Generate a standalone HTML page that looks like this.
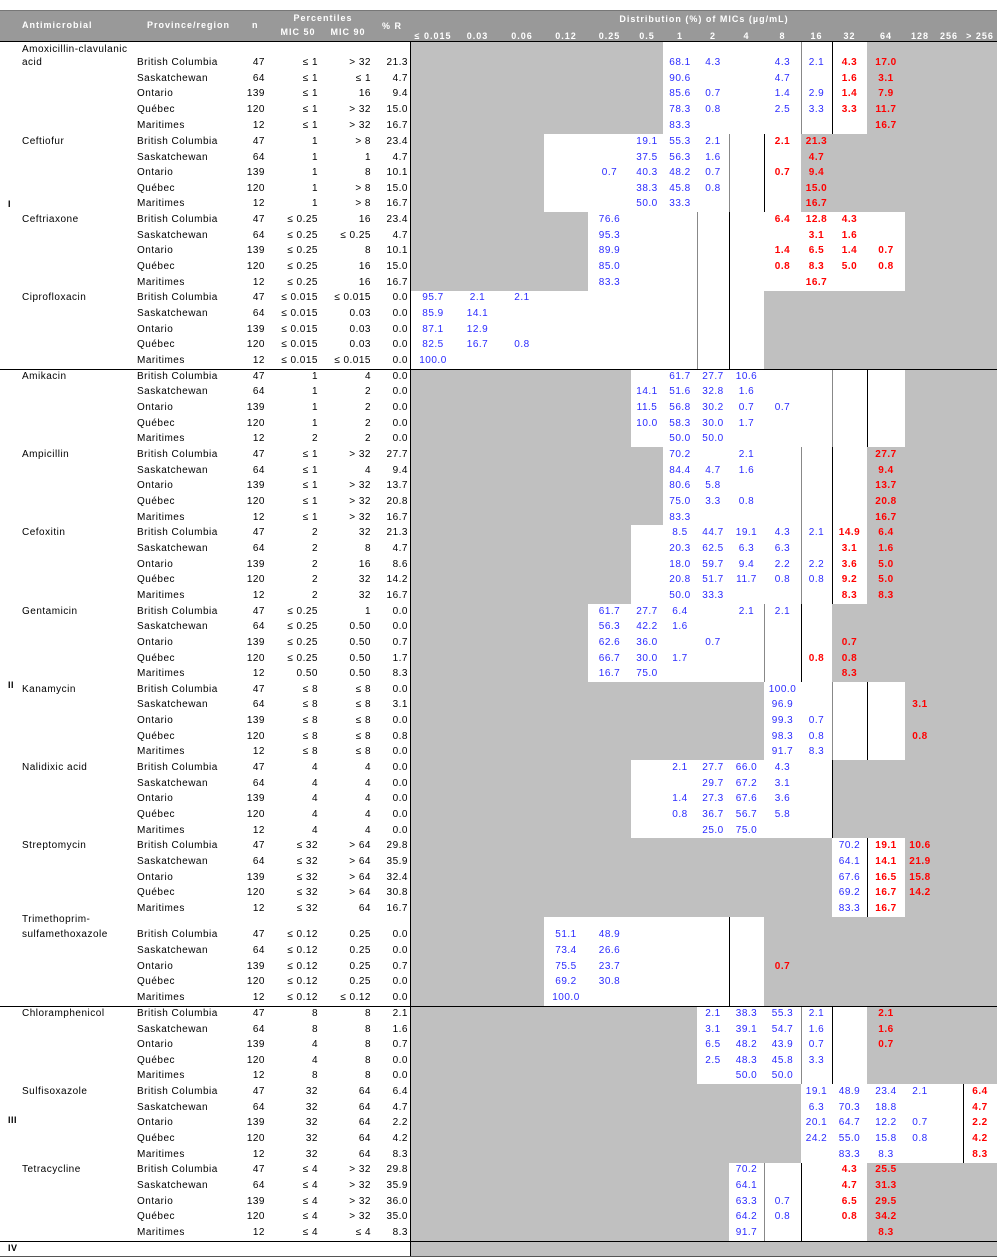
<!DOCTYPE html>
<html><head><meta charset="utf-8">
<style>
body{margin:0;background:#fff;}
#w{position:relative;width:997px;height:1259px;overflow:hidden;font-family:"Liberation Sans",Arial,sans-serif;font-size:10px;color:#000;letter-spacing:0.5px;}
.ab{position:absolute;}
.hd{position:absolute;left:0;top:10px;width:997px;height:32px;background:#999;border-top:1px solid #777;box-sizing:border-box;}
.h{position:absolute;color:#fff;font-weight:bold;font-size:9px;letter-spacing:1px;white-space:nowrap;line-height:10px;}
.hc{position:absolute;color:#fff;font-weight:bold;font-size:9px;letter-spacing:1px;white-space:nowrap;line-height:10px;text-align:center;}
.gray{position:absolute;left:411px;top:42px;width:586px;height:1214px;background:#c0c0c0;}
.wh{position:absolute;background:#fff;}
.lg{position:absolute;width:1px;background:#888;}
.lk{position:absolute;width:1px;background:#000;}
.hl{position:absolute;left:0;width:997px;height:1px;background:#000;}
.r{position:absolute;left:0;width:997px;height:16px;line-height:16px;}
.r span{position:absolute;top:0;white-space:nowrap;}
.a{left:22px}
.p{left:137px}
.n{left:215px;width:50px;text-align:right}
.m5{left:268px;width:50px;text-align:right}
.m9{left:320px;width:51px;text-align:right}
.pr{left:368px;width:40px;text-align:right}
.d0,.d1,.d2,.d3,.d4,.d5,.d6,.d7,.d8,.d9,.d10,.d11,.d12,.d13,.d14,.d15{text-align:center;color:#2b2bff;}
.d0{left:411px;width:44px}.d1{left:455px;width:45px}.d2{left:500px;width:44px}.d3{left:544px;width:44px}
.d4{left:588px;width:43px}.d5{left:631px;width:32px}.d6{left:663px;width:34px}.d7{left:697px;width:32px}
.d8{left:729px;width:35px}.d9{left:764px;width:37px}.d10{left:801px;width:31px}.d11{left:832px;width:35px}
.d12{left:867px;width:38px}.d13{left:905px;width:30px}.d14{left:935px;width:28px}.d15{left:963px;width:34px}
.r span.x{color:#f00;font-weight:bold}
.g{position:absolute;left:8px;font-weight:bold;font-size:9px;line-height:10px}
</style></head><body><div id="w">
<div class="hd"></div>
<div class="h" style="left:22px;top:20px">Antimicrobial</div>
<div class="h" style="left:147px;top:20px">Province/region</div>
<div class="h" style="left:252px;top:20px">n</div>
<div class="hc" style="left:283px;width:80px;top:13px">Percentiles</div>
<div class="hc" style="left:273px;width:50px;top:27px">MIC 50</div>
<div class="hc" style="left:323px;width:50px;top:27px">MIC 90</div>
<div class="h" style="left:382px;top:21px">% R</div>
<div class="hc" style="left:554px;width:300px;top:14px">Distribution (%) of MICs (µg/mL)</div>
<div class="hc" style="left:411px;width:44px;top:31px">≤ 0.015</div>
<div class="hc" style="left:455px;width:45px;top:31px">0.03</div>
<div class="hc" style="left:500px;width:44px;top:31px">0.06</div>
<div class="hc" style="left:544px;width:44px;top:31px">0.12</div>
<div class="hc" style="left:588px;width:43px;top:31px">0.25</div>
<div class="hc" style="left:631px;width:32px;top:31px">0.5</div>
<div class="hc" style="left:663px;width:34px;top:31px">1</div>
<div class="hc" style="left:697px;width:32px;top:31px">2</div>
<div class="hc" style="left:729px;width:35px;top:31px">4</div>
<div class="hc" style="left:764px;width:37px;top:31px">8</div>
<div class="hc" style="left:801px;width:31px;top:31px">16</div>
<div class="hc" style="left:832px;width:35px;top:31px">32</div>
<div class="hc" style="left:867px;width:38px;top:31px">64</div>
<div class="hc" style="left:905px;width:30px;top:31px">128</div>
<div class="hc" style="left:935px;width:28px;top:31px">256</div>
<div class="hc" style="left:963px;width:34px;top:31px">&gt; 256</div>

<div class="gray"></div>
<!-- white regions -->
<div class="wh" style="left:663px;width:204px;top:42px;height:92px"></div>
<div class="wh" style="left:544px;width:257px;top:134px;height:78.3px"></div>
<div class="wh" style="left:588px;width:317px;top:212.3px;height:78.3px"></div>
<div class="wh" style="left:411px;width:353px;top:290.6px;height:78.3px"></div>
<div class="wh" style="left:631px;width:274px;top:368.9px;height:78.3px"></div>
<div class="wh" style="left:663px;width:204px;top:447.2px;height:78.3px"></div>
<div class="wh" style="left:631px;width:236px;top:525.4px;height:78.3px"></div>
<div class="wh" style="left:588px;width:244px;top:603.7px;height:78.3px"></div>
<div class="wh" style="left:764px;width:141px;top:681.9px;height:78.3px"></div>
<div class="wh" style="left:631px;width:201px;top:760.2px;height:78.3px"></div>
<div class="wh" style="left:832px;width:73px;top:838.4px;height:78.3px"></div>
<div class="wh" style="left:544px;width:220px;top:916.7px;height:89.3px"></div>
<div class="wh" style="left:697px;width:170px;top:1006px;height:78.3px"></div>
<div class="wh" style="left:801px;width:196px;top:1084.3px;height:78.3px"></div>
<div class="wh" style="left:729px;width:138px;top:1162.5px;height:78.3px"></div>
<!-- breakpoint lines -->
<div class="lg" style="left:801px;top:42px;height:92px"></div><div class="lk" style="left:832px;top:42px;height:92px"></div>
<div class="lg" style="left:729px;top:134px;height:78.3px"></div><div class="lk" style="left:764px;top:134px;height:78.3px"></div>
<div class="lg" style="left:697px;top:212.3px;height:156.6px"></div><div class="lk" style="left:729px;top:212.3px;height:156.6px"></div>
<div class="lg" style="left:832px;top:368.9px;height:78.3px"></div><div class="lk" style="left:867px;top:368.9px;height:78.3px"></div>
<div class="lg" style="left:801px;top:447.2px;height:156.5px"></div><div class="lk" style="left:832px;top:447.2px;height:156.5px"></div>
<div class="lg" style="left:764px;top:603.7px;height:78.3px"></div><div class="lk" style="left:801px;top:603.7px;height:78.3px"></div>
<div class="lg" style="left:832px;top:681.9px;height:78.3px"></div><div class="lk" style="left:867px;top:681.9px;height:78.3px"></div>
<div class="lk" style="left:832px;top:760.2px;height:78.3px"></div>
<div class="lk" style="left:867px;top:838.4px;height:78.3px"></div>
<div class="lk" style="left:729px;top:916.7px;height:89.3px"></div>
<div class="lg" style="left:801px;top:1006px;height:78.3px"></div><div class="lk" style="left:832px;top:1006px;height:78.3px"></div>
<div class="lk" style="left:963px;top:1084.3px;height:78.3px"></div>
<div class="lg" style="left:764px;top:1162.5px;height:78.3px"></div><div class="lk" style="left:801px;top:1162.5px;height:78.3px"></div>

<div class="lk" style="left:410px;top:42px;height:1214px"></div>
<div class="hl" style="top:41px"></div>
<div class="hl" style="top:368.5px"></div>
<div class="hl" style="top:1005.5px"></div>
<div class="hl" style="top:1240.5px"></div>
<div class="hl" style="top:1256px;background:#555"></div>

<div class="g" style="top:199px">I</div>
<div class="g" style="top:680px">II</div>
<div class="g" style="top:1115px">III</div>
<div class="g" style="top:1243px">IV</div>

<!-- Group I -->
<div class="r" style="top:41.5px"><span class="a">Amoxicillin-clavulanic</span></div>
<div class="r" style="top:55px"><span class="a">acid</span><span class="p">British Columbia</span><span class="n">47</span><span class="m5">≤ 1</span><span class="m9">&gt; 32</span><span class="pr">21.3</span><span class="d6">68.1</span><span class="d7">4.3</span><span class="d9">4.3</span><span class="d10">2.1</span><span class="d11 x">4.3</span><span class="d12 x">17.0</span></div>
<div class="r" style="top:70.5px"><span class="p">Saskatchewan</span><span class="n">64</span><span class="m5">≤ 1</span><span class="m9">≤ 1</span><span class="pr">4.7</span><span class="d6">90.6</span><span class="d9">4.7</span><span class="d11 x">1.6</span><span class="d12 x">3.1</span></div>
<div class="r" style="top:86.2px"><span class="p">Ontario</span><span class="n">139</span><span class="m5">≤ 1</span><span class="m9">16</span><span class="pr">9.4</span><span class="d6">85.6</span><span class="d7">0.7</span><span class="d9">1.4</span><span class="d10">2.9</span><span class="d11 x">1.4</span><span class="d12 x">7.9</span></div>
<div class="r" style="top:102px"><span class="p">Québec</span><span class="n">120</span><span class="m5">≤ 1</span><span class="m9">&gt; 32</span><span class="pr">15.0</span><span class="d6">78.3</span><span class="d7">0.8</span><span class="d9">2.5</span><span class="d10">3.3</span><span class="d11 x">3.3</span><span class="d12 x">11.7</span></div>
<div class="r" style="top:118px"><span class="p">Maritimes</span><span class="n">12</span><span class="m5">≤ 1</span><span class="m9">&gt; 32</span><span class="pr">16.7</span><span class="d6">83.3</span><span class="d12 x">16.7</span></div>

<div class="r" style="top:133.8px"><span class="a">Ceftiofur</span><span class="p">British Columbia</span><span class="n">47</span><span class="m5">1</span><span class="m9">&gt; 8</span><span class="pr">23.4</span><span class="d5">19.1</span><span class="d6">55.3</span><span class="d7">2.1</span><span class="d9 x">2.1</span><span class="d10 x">21.3</span></div>
<div class="r" style="top:149.5px"><span class="p">Saskatchewan</span><span class="n">64</span><span class="m5">1</span><span class="m9">1</span><span class="pr">4.7</span><span class="d5">37.5</span><span class="d6">56.3</span><span class="d7">1.6</span><span class="d10 x">4.7</span></div>
<div class="r" style="top:165.1px"><span class="p">Ontario</span><span class="n">139</span><span class="m5">1</span><span class="m9">8</span><span class="pr">10.1</span><span class="d4">0.7</span><span class="d5">40.3</span><span class="d6">48.2</span><span class="d7">0.7</span><span class="d9 x">0.7</span><span class="d10 x">9.4</span></div>
<div class="r" style="top:180.8px"><span class="p">Québec</span><span class="n">120</span><span class="m5">1</span><span class="m9">&gt; 8</span><span class="pr">15.0</span><span class="d5">38.3</span><span class="d6">45.8</span><span class="d7">0.8</span><span class="d10 x">15.0</span></div>
<div class="r" style="top:196.4px"><span class="p">Maritimes</span><span class="n">12</span><span class="m5">1</span><span class="m9">&gt; 8</span><span class="pr">16.7</span><span class="d5">50.0</span><span class="d6">33.3</span><span class="d10 x">16.7</span></div>

<div class="r" style="top:212.1px"><span class="a">Ceftriaxone</span><span class="p">British Columbia</span><span class="n">47</span><span class="m5">≤ 0.25</span><span class="m9">16</span><span class="pr">23.4</span><span class="d4">76.6</span><span class="d9 x">6.4</span><span class="d10 x">12.8</span><span class="d11 x">4.3</span></div>
<div class="r" style="top:227.8px"><span class="p">Saskatchewan</span><span class="n">64</span><span class="m5">≤ 0.25</span><span class="m9">≤ 0.25</span><span class="pr">4.7</span><span class="d4">95.3</span><span class="d10 x">3.1</span><span class="d11 x">1.6</span></div>
<div class="r" style="top:243.4px"><span class="p">Ontario</span><span class="n">139</span><span class="m5">≤ 0.25</span><span class="m9">8</span><span class="pr">10.1</span><span class="d4">89.9</span><span class="d9 x">1.4</span><span class="d10 x">6.5</span><span class="d11 x">1.4</span><span class="d12 x">0.7</span></div>
<div class="r" style="top:259.1px"><span class="p">Québec</span><span class="n">120</span><span class="m5">≤ 0.25</span><span class="m9">16</span><span class="pr">15.0</span><span class="d4">85.0</span><span class="d9 x">0.8</span><span class="d10 x">8.3</span><span class="d11 x">5.0</span><span class="d12 x">0.8</span></div>
<div class="r" style="top:274.7px"><span class="p">Maritimes</span><span class="n">12</span><span class="m5">≤ 0.25</span><span class="m9">16</span><span class="pr">16.7</span><span class="d4">83.3</span><span class="d10 x">16.7</span></div>

<div class="r" style="top:290.4px"><span class="a">Ciprofloxacin</span><span class="p">British Columbia</span><span class="n">47</span><span class="m5">≤ 0.015</span><span class="m9">≤ 0.015</span><span class="pr">0.0</span><span class="d0">95.7</span><span class="d1">2.1</span><span class="d2">2.1</span></div>
<div class="r" style="top:306.1px"><span class="p">Saskatchewan</span><span class="n">64</span><span class="m5">≤ 0.015</span><span class="m9">0.03</span><span class="pr">0.0</span><span class="d0">85.9</span><span class="d1">14.1</span></div>
<div class="r" style="top:321.7px"><span class="p">Ontario</span><span class="n">139</span><span class="m5">≤ 0.015</span><span class="m9">0.03</span><span class="pr">0.0</span><span class="d0">87.1</span><span class="d1">12.9</span></div>
<div class="r" style="top:337.4px"><span class="p">Québec</span><span class="n">120</span><span class="m5">≤ 0.015</span><span class="m9">0.03</span><span class="pr">0.0</span><span class="d0">82.5</span><span class="d1">16.7</span><span class="d2">0.8</span></div>
<div class="r" style="top:353px"><span class="p">Maritimes</span><span class="n">12</span><span class="m5">≤ 0.015</span><span class="m9">≤ 0.015</span><span class="pr">0.0</span><span class="d0">100.0</span></div>

<!-- Group II -->
<div class="r" style="top:368.7px"><span class="a">Amikacin</span><span class="p">British Columbia</span><span class="n">47</span><span class="m5">1</span><span class="m9">4</span><span class="pr">0.0</span><span class="d6">61.7</span><span class="d7">27.7</span><span class="d8">10.6</span></div>
<div class="r" style="top:384.4px"><span class="p">Saskatchewan</span><span class="n">64</span><span class="m5">1</span><span class="m9">2</span><span class="pr">0.0</span><span class="d5">14.1</span><span class="d6">51.6</span><span class="d7">32.8</span><span class="d8">1.6</span></div>
<div class="r" style="top:400px"><span class="p">Ontario</span><span class="n">139</span><span class="m5">1</span><span class="m9">2</span><span class="pr">0.0</span><span class="d5">11.5</span><span class="d6">56.8</span><span class="d7">30.2</span><span class="d8">0.7</span><span class="d9">0.7</span></div>
<div class="r" style="top:415.7px"><span class="p">Québec</span><span class="n">120</span><span class="m5">1</span><span class="m9">2</span><span class="pr">0.0</span><span class="d5">10.0</span><span class="d6">58.3</span><span class="d7">30.0</span><span class="d8">1.7</span></div>
<div class="r" style="top:431.3px"><span class="p">Maritimes</span><span class="n">12</span><span class="m5">2</span><span class="m9">2</span><span class="pr">0.0</span><span class="d6">50.0</span><span class="d7">50.0</span></div>

<div class="r" style="top:447px"><span class="a">Ampicillin</span><span class="p">British Columbia</span><span class="n">47</span><span class="m5">≤ 1</span><span class="m9">&gt; 32</span><span class="pr">27.7</span><span class="d6">70.2</span><span class="d8">2.1</span><span class="d12 x">27.7</span></div>
<div class="r" style="top:462.6px"><span class="p">Saskatchewan</span><span class="n">64</span><span class="m5">≤ 1</span><span class="m9">4</span><span class="pr">9.4</span><span class="d6">84.4</span><span class="d7">4.7</span><span class="d8">1.6</span><span class="d12 x">9.4</span></div>
<div class="r" style="top:478.3px"><span class="p">Ontario</span><span class="n">139</span><span class="m5">≤ 1</span><span class="m9">&gt; 32</span><span class="pr">13.7</span><span class="d6">80.6</span><span class="d7">5.8</span><span class="d12 x">13.7</span></div>
<div class="r" style="top:493.9px"><span class="p">Québec</span><span class="n">120</span><span class="m5">≤ 1</span><span class="m9">&gt; 32</span><span class="pr">20.8</span><span class="d6">75.0</span><span class="d7">3.3</span><span class="d8">0.8</span><span class="d12 x">20.8</span></div>
<div class="r" style="top:509.6px"><span class="p">Maritimes</span><span class="n">12</span><span class="m5">≤ 1</span><span class="m9">&gt; 32</span><span class="pr">16.7</span><span class="d6">83.3</span><span class="d12 x">16.7</span></div>

<div class="r" style="top:525.2px"><span class="a">Cefoxitin</span><span class="p">British Columbia</span><span class="n">47</span><span class="m5">2</span><span class="m9">32</span><span class="pr">21.3</span><span class="d6">8.5</span><span class="d7">44.7</span><span class="d8">19.1</span><span class="d9">4.3</span><span class="d10">2.1</span><span class="d11 x">14.9</span><span class="d12 x">6.4</span></div>
<div class="r" style="top:540.9px"><span class="p">Saskatchewan</span><span class="n">64</span><span class="m5">2</span><span class="m9">8</span><span class="pr">4.7</span><span class="d6">20.3</span><span class="d7">62.5</span><span class="d8">6.3</span><span class="d9">6.3</span><span class="d11 x">3.1</span><span class="d12 x">1.6</span></div>
<div class="r" style="top:556.5px"><span class="p">Ontario</span><span class="n">139</span><span class="m5">2</span><span class="m9">16</span><span class="pr">8.6</span><span class="d6">18.0</span><span class="d7">59.7</span><span class="d8">9.4</span><span class="d9">2.2</span><span class="d10">2.2</span><span class="d11 x">3.6</span><span class="d12 x">5.0</span></div>
<div class="r" style="top:572.2px"><span class="p">Québec</span><span class="n">120</span><span class="m5">2</span><span class="m9">32</span><span class="pr">14.2</span><span class="d6">20.8</span><span class="d7">51.7</span><span class="d8">11.7</span><span class="d9">0.8</span><span class="d10">0.8</span><span class="d11 x">9.2</span><span class="d12 x">5.0</span></div>
<div class="r" style="top:587.8px"><span class="p">Maritimes</span><span class="n">12</span><span class="m5">2</span><span class="m9">32</span><span class="pr">16.7</span><span class="d6">50.0</span><span class="d7">33.3</span><span class="d11 x">8.3</span><span class="d12 x">8.3</span></div>

<div class="r" style="top:603.5px"><span class="a">Gentamicin</span><span class="p">British Columbia</span><span class="n">47</span><span class="m5">≤ 0.25</span><span class="m9">1</span><span class="pr">0.0</span><span class="d4">61.7</span><span class="d5">27.7</span><span class="d6">6.4</span><span class="d8">2.1</span><span class="d9">2.1</span></div>
<div class="r" style="top:619.2px"><span class="p">Saskatchewan</span><span class="n">64</span><span class="m5">≤ 0.25</span><span class="m9">0.50</span><span class="pr">0.0</span><span class="d4">56.3</span><span class="d5">42.2</span><span class="d6">1.6</span></div>
<div class="r" style="top:634.8px"><span class="p">Ontario</span><span class="n">139</span><span class="m5">≤ 0.25</span><span class="m9">0.50</span><span class="pr">0.7</span><span class="d4">62.6</span><span class="d5">36.0</span><span class="d7">0.7</span><span class="d11 x">0.7</span></div>
<div class="r" style="top:650.5px"><span class="p">Québec</span><span class="n">120</span><span class="m5">≤ 0.25</span><span class="m9">0.50</span><span class="pr">1.7</span><span class="d4">66.7</span><span class="d5">30.0</span><span class="d6">1.7</span><span class="d10 x">0.8</span><span class="d11 x">0.8</span></div>
<div class="r" style="top:666.1px"><span class="p">Maritimes</span><span class="n">12</span><span class="m5">0.50</span><span class="m9">0.50</span><span class="pr">8.3</span><span class="d4">16.7</span><span class="d5">75.0</span><span class="d11 x">8.3</span></div>

<div class="r" style="top:681.7px"><span class="a">Kanamycin</span><span class="p">British Columbia</span><span class="n">47</span><span class="m5">≤ 8</span><span class="m9">≤ 8</span><span class="pr">0.0</span><span class="d9">100.0</span></div>
<div class="r" style="top:697.4px"><span class="p">Saskatchewan</span><span class="n">64</span><span class="m5">≤ 8</span><span class="m9">≤ 8</span><span class="pr">3.1</span><span class="d9">96.9</span><span class="d13 x">3.1</span></div>
<div class="r" style="top:713px"><span class="p">Ontario</span><span class="n">139</span><span class="m5">≤ 8</span><span class="m9">≤ 8</span><span class="pr">0.0</span><span class="d9">99.3</span><span class="d10">0.7</span></div>
<div class="r" style="top:728.7px"><span class="p">Québec</span><span class="n">120</span><span class="m5">≤ 8</span><span class="m9">≤ 8</span><span class="pr">0.8</span><span class="d9">98.3</span><span class="d10">0.8</span><span class="d13 x">0.8</span></div>
<div class="r" style="top:744.3px"><span class="p">Maritimes</span><span class="n">12</span><span class="m5">≤ 8</span><span class="m9">≤ 8</span><span class="pr">0.0</span><span class="d9">91.7</span><span class="d10">8.3</span></div>

<div class="r" style="top:760px"><span class="a">Nalidixic acid</span><span class="p">British Columbia</span><span class="n">47</span><span class="m5">4</span><span class="m9">4</span><span class="pr">0.0</span><span class="d6">2.1</span><span class="d7">27.7</span><span class="d8">66.0</span><span class="d9">4.3</span></div>
<div class="r" style="top:775.7px"><span class="p">Saskatchewan</span><span class="n">64</span><span class="m5">4</span><span class="m9">4</span><span class="pr">0.0</span><span class="d7">29.7</span><span class="d8">67.2</span><span class="d9">3.1</span></div>
<div class="r" style="top:791.3px"><span class="p">Ontario</span><span class="n">139</span><span class="m5">4</span><span class="m9">4</span><span class="pr">0.0</span><span class="d6">1.4</span><span class="d7">27.3</span><span class="d8">67.6</span><span class="d9">3.6</span></div>
<div class="r" style="top:807px"><span class="p">Québec</span><span class="n">120</span><span class="m5">4</span><span class="m9">4</span><span class="pr">0.0</span><span class="d6">0.8</span><span class="d7">36.7</span><span class="d8">56.7</span><span class="d9">5.8</span></div>
<div class="r" style="top:822.6px"><span class="p">Maritimes</span><span class="n">12</span><span class="m5">4</span><span class="m9">4</span><span class="pr">0.0</span><span class="d7">25.0</span><span class="d8">75.0</span></div>

<div class="r" style="top:838.2px"><span class="a">Streptomycin</span><span class="p">British Columbia</span><span class="n">47</span><span class="m5">≤ 32</span><span class="m9">&gt; 64</span><span class="pr">29.8</span><span class="d11">70.2</span><span class="d12 x">19.1</span><span class="d13 x">10.6</span></div>
<div class="r" style="top:853.9px"><span class="p">Saskatchewan</span><span class="n">64</span><span class="m5">≤ 32</span><span class="m9">&gt; 64</span><span class="pr">35.9</span><span class="d11">64.1</span><span class="d12 x">14.1</span><span class="d13 x">21.9</span></div>
<div class="r" style="top:869.5px"><span class="p">Ontario</span><span class="n">139</span><span class="m5">≤ 32</span><span class="m9">&gt; 64</span><span class="pr">32.4</span><span class="d11">67.6</span><span class="d12 x">16.5</span><span class="d13 x">15.8</span></div>
<div class="r" style="top:885.2px"><span class="p">Québec</span><span class="n">120</span><span class="m5">≤ 32</span><span class="m9">&gt; 64</span><span class="pr">30.8</span><span class="d11">69.2</span><span class="d12 x">16.7</span><span class="d13 x">14.2</span></div>
<div class="r" style="top:900.8px"><span class="p">Maritimes</span><span class="n">12</span><span class="m5">≤ 32</span><span class="m9">64</span><span class="pr">16.7</span><span class="d11">83.3</span><span class="d12 x">16.7</span></div>

<div class="r" style="top:911.5px"><span class="a">Trimethoprim-</span></div>
<div class="r" style="top:927px"><span class="a">sulfamethoxazole</span><span class="p">British Columbia</span><span class="n">47</span><span class="m5">≤ 0.12</span><span class="m9">0.25</span><span class="pr">0.0</span><span class="d3">51.1</span><span class="d4">48.9</span></div>
<div class="r" style="top:942.8px"><span class="p">Saskatchewan</span><span class="n">64</span><span class="m5">≤ 0.12</span><span class="m9">0.25</span><span class="pr">0.0</span><span class="d3">73.4</span><span class="d4">26.6</span></div>
<div class="r" style="top:958.5px"><span class="p">Ontario</span><span class="n">139</span><span class="m5">≤ 0.12</span><span class="m9">0.25</span><span class="pr">0.7</span><span class="d3">75.5</span><span class="d4">23.7</span><span class="d9 x">0.7</span></div>
<div class="r" style="top:974.1px"><span class="p">Québec</span><span class="n">120</span><span class="m5">≤ 0.12</span><span class="m9">0.25</span><span class="pr">0.0</span><span class="d3">69.2</span><span class="d4">30.8</span></div>
<div class="r" style="top:989.8px"><span class="p">Maritimes</span><span class="n">12</span><span class="m5">≤ 0.12</span><span class="m9">≤ 0.12</span><span class="pr">0.0</span><span class="d3">100.0</span></div>

<!-- Group III -->
<div class="r" style="top:1005.8px"><span class="a">Chloramphenicol</span><span class="p">British Columbia</span><span class="n">47</span><span class="m5">8</span><span class="m9">8</span><span class="pr">2.1</span><span class="d7">2.1</span><span class="d8">38.3</span><span class="d9">55.3</span><span class="d10">2.1</span><span class="d12 x">2.1</span></div>
<div class="r" style="top:1021.5px"><span class="p">Saskatchewan</span><span class="n">64</span><span class="m5">8</span><span class="m9">8</span><span class="pr">1.6</span><span class="d7">3.1</span><span class="d8">39.1</span><span class="d9">54.7</span><span class="d10">1.6</span><span class="d12 x">1.6</span></div>
<div class="r" style="top:1037.1px"><span class="p">Ontario</span><span class="n">139</span><span class="m5">4</span><span class="m9">8</span><span class="pr">0.7</span><span class="d7">6.5</span><span class="d8">48.2</span><span class="d9">43.9</span><span class="d10">0.7</span><span class="d12 x">0.7</span></div>
<div class="r" style="top:1052.8px"><span class="p">Québec</span><span class="n">120</span><span class="m5">4</span><span class="m9">8</span><span class="pr">0.0</span><span class="d7">2.5</span><span class="d8">48.3</span><span class="d9">45.8</span><span class="d10">3.3</span></div>
<div class="r" style="top:1068.4px"><span class="p">Maritimes</span><span class="n">12</span><span class="m5">8</span><span class="m9">8</span><span class="pr">0.0</span><span class="d8">50.0</span><span class="d9">50.0</span></div>

<div class="r" style="top:1084.1px"><span class="a">Sulfisoxazole</span><span class="p">British Columbia</span><span class="n">47</span><span class="m5">32</span><span class="m9">64</span><span class="pr">6.4</span><span class="d10">19.1</span><span class="d11">48.9</span><span class="d12">23.4</span><span class="d13">2.1</span><span class="d15 x">6.4</span></div>
<div class="r" style="top:1099.7px"><span class="p">Saskatchewan</span><span class="n">64</span><span class="m5">32</span><span class="m9">64</span><span class="pr">4.7</span><span class="d10">6.3</span><span class="d11">70.3</span><span class="d12">18.8</span><span class="d15 x">4.7</span></div>
<div class="r" style="top:1115.4px"><span class="p">Ontario</span><span class="n">139</span><span class="m5">32</span><span class="m9">64</span><span class="pr">2.2</span><span class="d10">20.1</span><span class="d11">64.7</span><span class="d12">12.2</span><span class="d13">0.7</span><span class="d15 x">2.2</span></div>
<div class="r" style="top:1131px"><span class="p">Québec</span><span class="n">120</span><span class="m5">32</span><span class="m9">64</span><span class="pr">4.2</span><span class="d10">24.2</span><span class="d11">55.0</span><span class="d12">15.8</span><span class="d13">0.8</span><span class="d15 x">4.2</span></div>
<div class="r" style="top:1146.7px"><span class="p">Maritimes</span><span class="n">12</span><span class="m5">32</span><span class="m9">64</span><span class="pr">8.3</span><span class="d11">83.3</span><span class="d12">8.3</span><span class="d15 x">8.3</span></div>

<div class="r" style="top:1162.3px"><span class="a">Tetracycline</span><span class="p">British Columbia</span><span class="n">47</span><span class="m5">≤ 4</span><span class="m9">&gt; 32</span><span class="pr">29.8</span><span class="d8">70.2</span><span class="d11 x">4.3</span><span class="d12 x">25.5</span></div>
<div class="r" style="top:1178px"><span class="p">Saskatchewan</span><span class="n">64</span><span class="m5">≤ 4</span><span class="m9">&gt; 32</span><span class="pr">35.9</span><span class="d8">64.1</span><span class="d11 x">4.7</span><span class="d12 x">31.3</span></div>
<div class="r" style="top:1193.6px"><span class="p">Ontario</span><span class="n">139</span><span class="m5">≤ 4</span><span class="m9">&gt; 32</span><span class="pr">36.0</span><span class="d8">63.3</span><span class="d9">0.7</span><span class="d11 x">6.5</span><span class="d12 x">29.5</span></div>
<div class="r" style="top:1209.3px"><span class="p">Québec</span><span class="n">120</span><span class="m5">≤ 4</span><span class="m9">&gt; 32</span><span class="pr">35.0</span><span class="d8">64.2</span><span class="d9">0.8</span><span class="d11 x">0.8</span><span class="d12 x">34.2</span></div>
<div class="r" style="top:1224.9px"><span class="p">Maritimes</span><span class="n">12</span><span class="m5">≤ 4</span><span class="m9">≤ 4</span><span class="pr">8.3</span><span class="d8">91.7</span><span class="d12 x">8.3</span></div>
</div></body></html>
